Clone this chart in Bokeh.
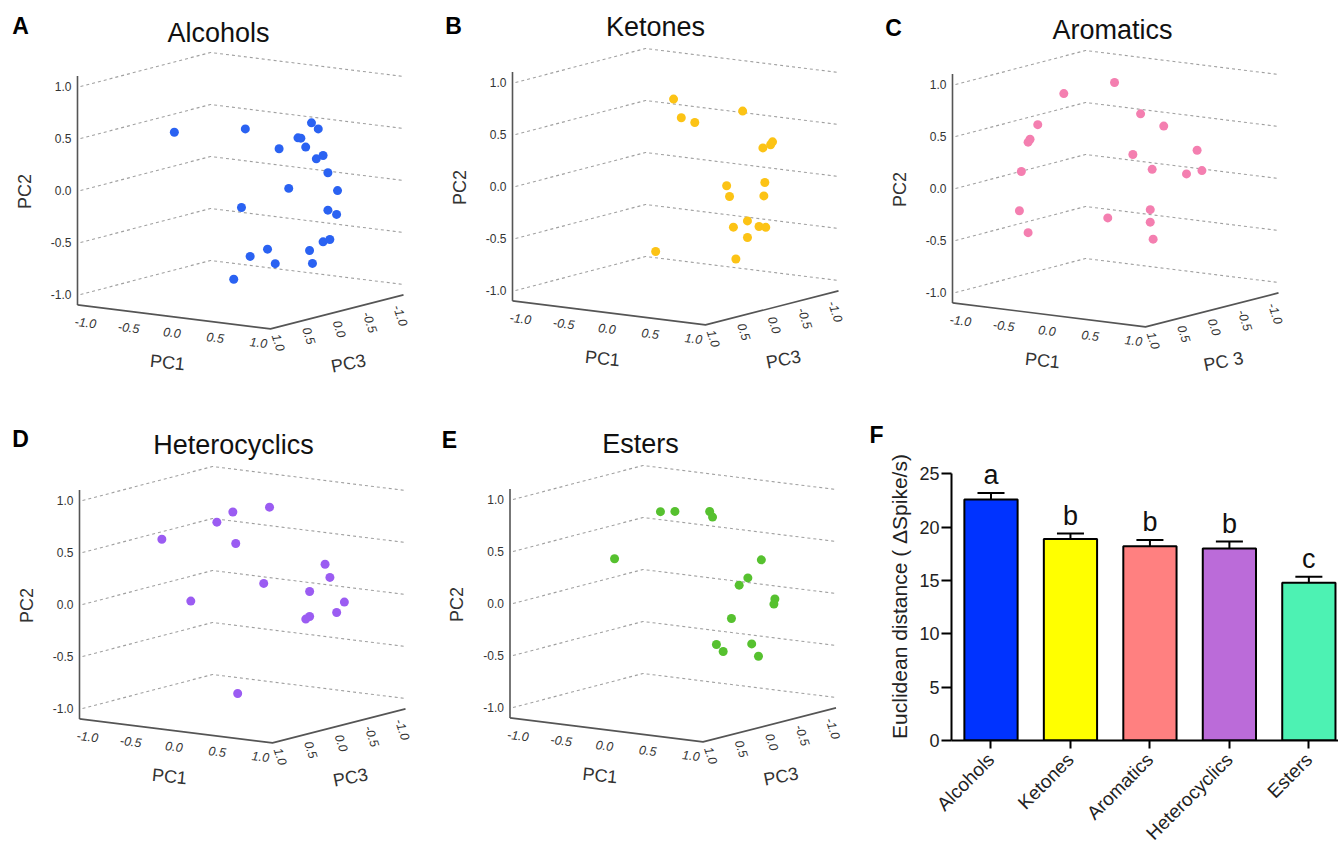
import numpy as np
from bokeh.plotting import figure
from bokeh.models import Range1d, FixedTicker
from bokeh.layouts import row, column
from bokeh.core.properties import value
from bokeh.embed import file_html
from bokeh.resources import INLINE

FONT = "Liberation Sans"

# ---------------- data: PCA coordinates (PC1, PC2, PC3) ----------------
alc_pc1 = [-0.41, 0.05, 0.46, 0.53, 0.32, 0.35, 0.40, 0.40, 0.51, 0.58, 0.63, 0.50,
           0.73, 0.01, 0.63, 0.72, 0.58, 0.65, 0.28, 0.44, 0.10, 0.36, 0.47, -0.07]
alc_pc2 = [0.53, 0.55, 0.59, 0.54, 0.43, 0.43, 0.40, 0.35, 0.25, 0.29, 0.13, 0.03,
           -0.03, -0.21, -0.23, -0.26, -0.54, -0.51, -0.58, -0.64, -0.67, -0.71, -0.76, -0.91]
alc_pc3 = [0.4, 0.0, -0.4, -0.4, -0.4, -0.4, 0.0, -0.4, -0.4, -0.4, -0.4, 0.0,
           -0.4, 0.0, -0.4, -0.4, -0.4, -0.4, 0.0, -0.4, 0.0, 0.0, -0.4, 0.0]

ket_pc1 = [-0.02, 0.06, 0.20, 0.42, 0.63, 0.71, 0.73, 0.53, 0.56, 0.65, 0.64, 0.47,
           0.60, 0.59, 0.66, 0.47, 0.07, 0.35]
ket_pc2 = [0.79, 0.62, 0.59, 0.66, 0.33, 0.37, 0.40, 0.02, -0.08, 0.00, -0.13, -0.39,
           -0.37, -0.43, -0.43, -0.55, -0.60, -0.77]
ket_pc3 = [0.0, 0.0, 0.0, -0.4, -0.4, -0.4, -0.4, 0.0, 0.0, -0.4, -0.4, -0.4,
           0.0, -0.4, -0.4, -0.4, 0.4, -0.4]

aro_pc1 = [-0.01, -0.26, 0.26, 0.50, -0.53, -0.61, -0.63, 0.57, 0.18, 0.38, 0.46, 0.62,
           -0.70, -0.72, -0.63, -0.08, 0.36, 0.36, 0.39]
aro_pc2 = [0.97, 0.90, 0.70, 0.61, 0.57, 0.42, 0.39, 0.32, 0.30, 0.18, 0.08, 0.13,
           0.10, -0.28, -0.48, -0.34, -0.21, -0.33, -0.49]
aro_pc3 = [0.0, 0.4, 0.0, 0.0, 0.4, 0.4, 0.4, -0.4, 0.0, 0.0, -0.4, -0.4,
           0.4, 0.4, 0.4, 0.0, 0.0, 0.0, 0.0]

het_pc1 = [0.28, -0.10, 0.01, -0.56, -0.07, 0.58, 0.63, 0.22, 0.42, -0.26, 0.78, 0.70,
           0.42, 0.38, -0.05]
het_pc2 = [0.92, 0.83, 0.81, 0.58, 0.53, 0.34, 0.22, 0.18, 0.06, 0.02, 0.00, -0.11,
           -0.18, -0.21, -0.91]
het_pc3 = [0.0, 0.0, 0.4, 0.4, 0.0, -0.4, -0.4, 0.0, -0.4, 0.4, -0.4, -0.4,
           -0.4, -0.4, 0.0]

est_pc1 = [-0.13, 0.02, 0.38, 0.41, -0.33, 0.64, 0.50, 0.41, 0.78, 0.77, 0.33, 0.45,
           0.52, 0.54, 0.61]
est_pc2 = [0.82, 0.84, 0.88, 0.83, 0.41, 0.38, 0.19, 0.11, 0.02, -0.03, -0.22, -0.39,
           -0.45, -0.44, -0.55]
est_pc3 = [0.0, 0.0, 0.0, 0.0, 0.4, -0.4, -0.4, -0.4, -0.4, -0.4, -0.4, 0.0,
           0.0, -0.4, -0.4]

pc_ticks = [-1.0, -0.5, 0.0, 0.5, 1.0]
pc_tick_labels = ["-1.0", "-0.5", "0.0", "0.5", "1.0"]

# ---------------- data: Euclidean distance bar chart ----------------
groups = ["Alcohols", "Ketones", "Aromatics", "Heterocyclics", "Esters"]
dist_mean = [22.6, 18.9, 18.2, 18.0, 14.8]
dist_sem = [0.6, 0.5, 0.6, 0.65, 0.55]
sig_letters = ["a", "b", "b", "b", "c"]
dist_ticks = [0, 5, 10, 15, 20, 25]

bar_colors = ["#0033ff", "#ffff00", "#ff8080", "#bb6bd9", "#4df2b3"]

# ---------------- 3D projection geometry (screen px per unit) ----------------
A1 = (96.5, 12.0)    # PC1 direction
A3 = (-66.5, 17.0)   # PC3 direction
K = 104.0            # PC2 vertical scale


def txt(p, x, y, s, size, angle=0.0, align="center", baseline="middle",
        color="#333333", style="normal"):
    p.text(x=[x], y=[-y], text=[s], angle=angle, text_align=align,
           text_baseline=baseline, text_font=value(FONT),
           text_font_size=f"{size}px", text_color=color, text_font_style=style)


def panel3d(fx0, fy0, W, H, VX, Y0, pc1, pc2, pc3, color, title, title_xy,
            letter, letter_xy, pc3_name):
    p = figure(width=W, height=H, x_range=Range1d(fx0, fx0 + W),
               y_range=Range1d(-(fy0 + H), -fy0), output_backend="svg",
               toolbar_location=None, x_axis_type=None, y_axis_type=None,
               min_border=0, outline_line_color=None)
    p.frame_align = False
    p.xgrid.visible = False
    p.ygrid.visible = False

    def proj(a, b, c):
        a = np.asarray(a, float)
        b = np.asarray(b, float)
        c = np.asarray(c, float)
        sx = VX + A1[0] * (a + 1) + A3[0] * (c - 1)
        sy = Y0 - K * b + A1[1] * (a + 1) + A3[1] * (c - 1)
        return sx, -sy

    # dashed back-wall grid lines
    for lev in pc_ticks:
        xs, ys = proj([-1, -1, 1], [lev] * 3, [1, -1, -1])
        xs = xs.copy()
        xs[0] += 3
        p.line(xs, ys, line_color="#a0a0a0", line_width=1.1, line_dash="3 3")

    # solid axes
    xs, ys = proj([-1, -1], [-1.1, 1.1], [1, 1])
    p.line(xs, ys, line_color="#555555", line_width=1.6)
    xs, ys = proj([-1, 1, 1], [-1.1, -1.1, -1.1], [1, 1, -1])
    p.line(xs, ys, line_color="#555555", line_width=1.6)

    # points
    xs, ys = proj(pc1, pc2, pc3)
    p.scatter(xs, ys, size=9, fill_color=color, line_color=None)

    # PC2 tick labels
    for v, lab in zip(pc_ticks, pc_tick_labels):
        sx, sy = proj([-1], [v], [1])
        txt(p, sx[0] - 6, -sy[0], lab, 12, align="right")
    # PC1 tick labels
    for v, lab in zip(pc_ticks, pc_tick_labels):
        t = (v + 1) / 2
        txt(p, VX + 8 + t * 173, Y0 + 132 + t * 20, lab, 12.5, angle=-0.12,
            style="italic")
    # PC3 tick labels
    for v, lab in zip(pc_ticks, pc_tick_labels):
        t = (1 - v) / 2
        txt(p, VX + 201 + t * 122, Y0 + 152 - t * 27, lab, 12.5, angle=-1.25,
            style="italic")

    # axis names
    txt(p, VX - 53, Y0 + 1, "PC2", 18, angle=np.pi / 2, color="#333333")
    txt(p, VX + 90, Y0 + 172, "PC1", 18, angle=-0.1, color="#333333")
    txt(p, VX + 271, Y0 + 173, pc3_name, 18, angle=0.2, color="#333333")

    # title and panel letter
    txt(p, title_xy[0], title_xy[1], title, 27, color="#111111")
    txt(p, letter_xy[0], letter_xy[1], letter, 23, color="#000000", style="bold")
    return p


pA = panel3d(0, 0, 434, 414, 77, 190, alc_pc1, alc_pc2, alc_pc3, "#2a62f2",
             "Alcohols", (218, 32), "A", (20, 25), "PC3")
pB = panel3d(434, 0, 430, 414, 512, 186, ket_pc1, ket_pc2, ket_pc3, "#fcc315",
             "Ketones", (655, 26), "B", (453, 25), "PC3")
pC = panel3d(864, 0, 474, 414, 952, 188, aro_pc1, aro_pc2, aro_pc3, "#f47fb0",
             "Aromatics", (1112, 29), "C", (893, 27), "PC 3")
pD = panel3d(0, 414, 434, 440, 79, 604, het_pc1, het_pc2, het_pc3, "#9b5cf2",
             "Heterocyclics", (233, 444), "D", (20, 438), "PC3")
pE = panel3d(434, 414, 451, 440, 509.5, 603, est_pc1, est_pc2, est_pc3, "#56c12f",
             "Esters", (640, 443), "E", (449, 439), "PC3")
# panel letter F sits left of the bar chart's axis, inside panel E's canvas
txt(pE, 876, 434, "F", 23, color="#000000", style="bold")

# ---------------- panel F: bar chart ----------------
xpos = [1, 2, 3, 4, 5]
pF = figure(width=453, height=440, x_range=Range1d(0.503, 5.373),
            y_range=Range1d(0, 27), output_backend="svg", toolbar_location=None,
            min_border_left=61, min_border_right=0, min_border_top=38,
            min_border_bottom=110, outline_line_color=None)
pF.frame_align = False
pF.xgrid.visible = False
pF.ygrid.visible = False

pF.vbar(x=xpos, top=dist_mean, width=0.67, fill_color=bar_colors,
        line_color="black", line_width=2)
tops = [m + s for m, s in zip(dist_mean, dist_sem)]
pF.segment(x0=xpos, y0=dist_mean, x1=xpos, y1=tops, line_color="black", line_width=2)
pF.segment(x0=[x - 0.17 for x in xpos], y0=tops, x1=[x + 0.17 for x in xpos], y1=tops,
           line_color="black", line_width=2)
pF.text(x=xpos, y=[t + 0.25 for t in tops], text=sig_letters, text_align="center",
        text_baseline="bottom", text_font=value(FONT), text_font_size="27px",
        text_color="#111111")

yax = pF.yaxis[0]
yax.ticker = FixedTicker(ticks=dist_ticks)
yax.bounds = (0, 25)
yax.axis_line_width = 2
yax.axis_line_color = "black"
yax.major_tick_out = 10
yax.major_tick_in = 0
yax.major_tick_line_width = 2
yax.minor_tick_out = 0
yax.minor_tick_in = 0
yax.major_label_text_font = FONT
yax.major_label_text_font_size = "18px"
yax.major_label_text_color = "#222222"
yax.major_label_standoff = 2
yax.axis_label = "Euclidean distance ( \u0394Spike/s)"
yax.axis_label_text_font = FONT
yax.axis_label_text_font_size = "21px"
yax.axis_label_text_font_style = "normal"
yax.axis_label_text_color = "#222222"
yax.axis_label_standoff = 5

xax = pF.xaxis[0]
xax.ticker = FixedTicker(ticks=xpos)
xax.major_label_overrides = {x: g for x, g in zip(xpos, groups)}
xax.major_label_orientation = np.pi / 4
xax.axis_line_width = 2
xax.axis_line_color = "black"
xax.major_tick_out = 8
xax.major_tick_in = 0
xax.major_tick_line_width = 2
xax.minor_tick_out = 0
xax.minor_tick_in = 0
xax.major_label_text_font = FONT
xax.major_label_text_font_size = "19px"
xax.major_label_text_color = "#222222"
xax.major_label_standoff = 8

layout = column(row(pA, pB, pC), row(pD, pE, pF))
open("out.html", "w").write(file_html(layout, INLINE))
